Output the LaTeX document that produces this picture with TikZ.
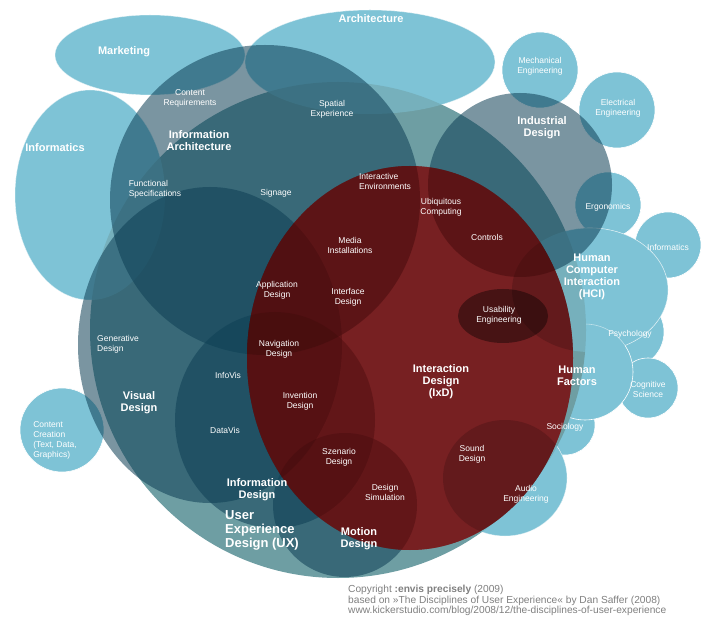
\documentclass[tikz,border=0pt]{standalone}
\usepackage{fontspec}
\setmainfont{Liberation Sans}
\begin{document}
\begin{tikzpicture}[x=1pt,y=-1pt,
 lb/.style={fill=lightb,draw=white,line width=0.6pt},
 dk/.style={fill=darkt,fill opacity=0.55,draw=none},
 tt/.style={text=white,font=\bfseries\fontsize{11}{12}\selectfont,align=center},
 sm/.style={text=white,font=\fontsize{8.5}{10}\selectfont,align=center}]
\definecolor{lightb}{HTML}{7EC3D6}
\definecolor{darkt}{HTML}{0E3F55}
\definecolor{uxc}{HTML}{6E9EA3}
\definecolor{redc}{HTML}{9A1A1C}
\useasboundingbox (0,0) rectangle (704,617);
\fill[white] (0,0) rectangle (704,617);
% outer light shapes
\path[lb] (150,55) ellipse [x radius=95,y radius=40];
\path[lb] (370,62) ellipse [x radius=125,y radius=52];
\path[lb] (90,195) ellipse [x radius=75,y radius=105];
\path[lb] (62,430) circle (42);
\path[lb] (540,70) circle (38);
\path[lb] (617,110) circle (38);
\path[lb] (608,205) circle (33);
\path[lb] (668,245) circle (33);
\path[lb] (628,332) circle (36);
\path[lb] (648,388) circle (30);
\path[lb] (565,425) circle (30);
\path[lb] (505,478) ellipse [x radius=62,y radius=58];
\path[lb] (590,290) ellipse [x radius=78,y radius=62];
\path[lb] (585,372) circle (48);
% UX circle
\path[fill=uxc] (338,330) circle (248);
\path[fill=lightb,fill opacity=0.5] (150,55) ellipse [x radius=95,y radius=40];
\path[fill=lightb,fill opacity=0.5] (370,62) ellipse [x radius=125,y radius=52];
\path[fill=lightb,fill opacity=0.5] (90,195) ellipse [x radius=75,y radius=105];
\path[fill=lightb,fill opacity=0.5] (590,290) ellipse [x radius=78,y radius=62];
\path[fill=lightb,fill opacity=0.5] (505,478) ellipse [x radius=62,y radius=58];
% dark discipline shapes
\path[dk] (520,185) circle (92);
\path[dk] (265,200) circle (155);
\path[dk] (210,345) ellipse [x radius=132,y radius=158];
\path[dk] (275,420) ellipse [x radius=100,y radius=108];
\path[dk] (345,505) circle (72);
% IxD
\path[fill=redc,fill opacity=0.8] (410,358) ellipse [x radius=163,y radius=192];
\path[fill=black,fill opacity=0.3] (410,358) ellipse [x radius=163,y radius=192];
\begin{scope}
\clip (410,358) ellipse [x radius=163,y radius=192];
\path[fill=black,fill opacity=0.35] (520,185) circle (92);
\path[fill=black,fill opacity=0.35] (265,200) circle (155);
\path[fill=black,fill opacity=0.25] (210,345) ellipse [x radius=132,y radius=158];
\path[fill=black,fill opacity=0.25] (275,420) ellipse [x radius=100,y radius=108];
\path[fill=black,fill opacity=0.25] (345,505) circle (72);
\path[fill=black,fill opacity=0.3] (590,290) ellipse [x radius=78,y radius=62];
\path[fill=black,fill opacity=0.3] (505,478) ellipse [x radius=62,y radius=58];
\end{scope}
\path[fill=redc,fill opacity=0.35] (410,358) ellipse [x radius=163,y radius=192];
\path[fill=black,fill opacity=0.4] (503,316) ellipse [x radius=45,y radius=27];
% titles
\node[tt] (mk) at (124,52) {Marketing};
\node[tt] (ar) at (371,19) {Architecture};
\node[tt] (inf) at (55,148) {Informatics};
\node[tt] (ia) at (199,141) {Information\\Architecture};
\node[tt] (ind) at (542,128) {Industrial\\Design};
\node[tt] (hci) at (592,277) {Human\\Computer\\Interaction\\(HCI)};
\node[tt] (hf) at (577,376) {Human\\Factors};
\node[tt] (vd) at (139,403) {Visual\\Design};
\node[tt] (ind2) at (257,490) {Information\\Design};
\node[tt] (md) at (359,539) {Motion\\Design};
\node[tt] (ixd) at (441,382) {Interaction\\Design\\(IxD)};
\node[tt,font=\bfseries\fontsize{13}{14}\selectfont,align=left] (ux) at (262,530) {User\\Experience\\Design (UX)};
% light labels
\node[sm] (me) at (540,66) {Mechanical\\Engineering};
\node[sm] (ee) at (618,108) {Electrical\\Engineering};
\node[sm] (er) at (608,207) {Ergonomics};
\node[sm] (inr) at (668,247) {Informatics};
\node[sm] (ps) at (630,334) {Psychology};
\node[sm] (cs) at (648,389) {Cognitive\\Science};
\node[sm] (so) at (565,427) {Sociology};
\node[sm] (ae) at (526,494) {Audio\\Engineering};
\node[sm,align=left] (cc) at (55,440) {Content\\Creation\\(Text, Data,\\Graphics)};
% inner labels
\node[sm] (cr) at (190,98) {Content\\Requirements};
\node[sm] (se) at (332,109) {Spatial\\Experience};
\node[sm,align=left] (fs) at (155,189) {Functional\\Specifications};
\node[sm] (sg) at (276,193) {Signage};
\node[sm,align=left] (ie) at (385,181) {Interactive\\Environments};
\node[sm] (uc) at (441,207) {Ubiquitous\\Computing};
\node[sm] (ct) at (487,237) {Controls};
\node[sm] (mi) at (350,245) {Media\\Installations};
\node[sm] (ad) at (277,290) {Application\\Design};
\node[sm] (id) at (348,297) {Interface\\Design};
\node[sm] (ue) at (499,315) {Usability\\Engineering};
\node[sm,align=left] (gd) at (118,344) {Generative\\Design};
\node[sm] (nd) at (279,349) {Navigation\\Design};
\node[sm] (iv) at (228,375) {InfoVis};
\node[sm] (inv) at (300,401) {Invention\\Design};
\node[sm] (dv) at (225,430) {DataVis};
\node[sm] (sd) at (339,457) {Szenario\\Design};
\node[sm] (sod) at (472,454) {Sound\\Design};
\node[sm] (ds) at (385,492) {Design\\Simulation};
% copyright
\node[anchor=north west,text=gray,font=\fontsize{10.2}{10.5}\selectfont,align=left,inner sep=0pt] (cp) at (348,585)
 {Copyright \textbf{:envis precisely} (2009)\\based on »The Disciplines of User Experience« by Dan Saffer (2008)\\www.kickerstudio.com/blog/2008/12/the-disciplines-of-user-experience};
\end{tikzpicture}
\end{document}
